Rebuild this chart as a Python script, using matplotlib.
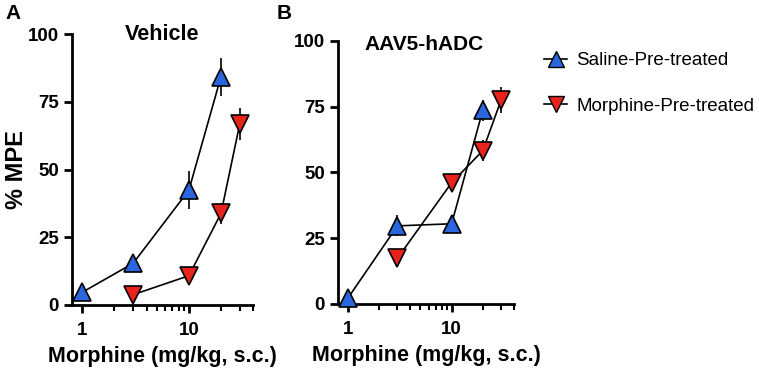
import matplotlib
matplotlib.use("Agg")
import matplotlib.pyplot as plt
from matplotlib.ticker import FixedLocator, NullFormatter
from matplotlib.lines import Line2D

plt.rcParams['font.family'] = ['Liberation Sans', 'DejaVu Sans']

# Panel A: Vehicle
a_sal_x = [1, 3, 10, 20]
a_sal_y = [4.7, 15.4, 42.4, 84.3]
a_sal_e = [1.5, 3.0, 7.0, 7.0]
a_mor_x = [3, 10, 20, 30]
a_mor_y = [3.8, 10.8, 33.8, 66.8]
a_mor_e = [1.0, 1.5, 4.0, 6.0]

# Panel B: AAV5-hADC
b_sal_x = [1, 3, 10, 20]
b_sal_y = [2.3, 29.7, 30.5, 73.7]
b_sal_e = [1.0, 4.0, 1.5, 4.0]
b_mor_x = [3, 10, 20, 30]
b_mor_y = [17.4, 46.1, 58.3, 77.5]
b_mor_e = [3.0, 1.5, 4.0, 5.0]

yticks = [0, 25, 50, 75, 100]
xticks = [1, 10]
blue = '#2a66dd'
red = '#e8231b'

fig = plt.figure(figsize=(7.59, 3.71), dpi=100)
axA = fig.add_axes([0.0949, 0.178, 0.2385, 0.730])
axB = fig.add_axes([0.4453, 0.1806, 0.2319, 0.709])

def style(ax):
    ax.set_xscale('log')
    ax.set_xlim(0.8, 40)
    ax.set_ylim(0, 100)
    ax.spines['top'].set_visible(False)
    ax.spines['right'].set_visible(False)
    for s in ['left', 'bottom']:
        ax.spines[s].set_linewidth(2)
    ax.xaxis.set_major_locator(FixedLocator(xticks))
    ax.set_xticklabels([str(t) for t in xticks])
    ax.xaxis.set_minor_locator(FixedLocator([2, 3, 4, 5, 6, 7, 8, 9, 20, 30, 40]))
    ax.xaxis.set_minor_formatter(NullFormatter())
    ax.set_yticks(yticks)
    ax.tick_params(axis='both', which='major', width=2, length=6, labelsize=13.5, direction='out')
    ax.tick_params(axis='x', which='major', pad=6)
    ax.tick_params(axis='x', which='minor', width=1.5, length=4, direction='out')
    for lab in ax.get_xticklabels() + ax.get_yticklabels():
        lab.set_fontweight('bold')
    ax.set_xlabel('Morphine (mg/kg, s.c.)', fontsize=15.5, fontweight='bold', labelpad=5)

def plot_series(ax, x, y, e, marker, color, label):
    ax.errorbar(x, y, yerr=e, fmt='-', color='black', lw=1.2, elinewidth=1.2,
                capsize=0, zorder=2, clip_on=False)
    ax.plot(x, y, linestyle='none', marker=marker, markersize=13,
            markerfacecolor=color, markeredgecolor='black', markeredgewidth=1.2,
            zorder=3, clip_on=False, label=label)

plot_series(axA, a_sal_x, a_sal_y, a_sal_e, '^', blue, 'Saline-Pre-treated')
plot_series(axA, a_mor_x, a_mor_y, a_mor_e, 'v', red, 'Morphine-Pre-treated')
plot_series(axB, b_sal_x, b_sal_y, b_sal_e, '^', blue, 'Saline-Pre-treated')
plot_series(axB, b_mor_x, b_mor_y, b_mor_e, 'v', red, 'Morphine-Pre-treated')

style(axA)
style(axB)
axA.set_ylabel('% MPE', fontsize=17, fontweight='bold', labelpad=0)

axA.text(0.5, 1.0, 'Vehicle', transform=axA.transAxes, ha='center', va='center',
         fontsize=15.5, fontweight='bold')
axB.text(0.49, 0.985, 'AAV5-hADC', transform=axB.transAxes, ha='center', va='center',
         fontsize=15, fontweight='bold')

fig.text(0.007, 0.963, 'A', fontsize=15, fontweight='bold', ha='left', va='center')
fig.text(0.365, 0.963, 'B', fontsize=15, fontweight='bold', ha='left', va='center')

h1 = Line2D([], [], color='black', lw=1.2, marker='^', markersize=12,
            markerfacecolor=blue, markeredgecolor='black')
h2 = Line2D([], [], color='black', lw=1.2, marker='v', markersize=12,
            markerfacecolor=red, markeredgecolor='black')
fig.legend([h1, h2], ['Saline-Pre-treated', 'Morphine-Pre-treated'],
           loc='center left', bbox_to_anchor=(0.695, 0.775), frameon=False,
           fontsize=13.5, handlelength=1.2, handletextpad=0.5, labelspacing=1.5)

fig.savefig('out.png', dpi=100)
